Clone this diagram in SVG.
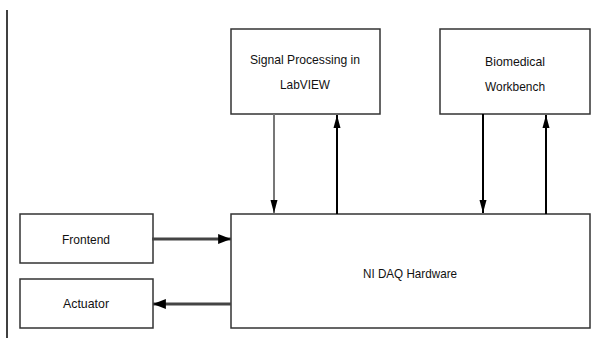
<svg xmlns="http://www.w3.org/2000/svg" width="597" height="347" viewBox="0 0 597 347">
<style>
.box{fill:#fff;stroke:#333;stroke-width:1.5}
.t{font-family:"Liberation Sans",Arial,sans-serif;font-size:13px;fill:#111;text-anchor:middle}
.c{fill:none;stroke:#000;stroke-width:2}
.g{fill:none;stroke:#777;stroke-width:2}
.h{fill:none;stroke:#444;stroke-width:3}
</style>
<defs>
<marker id="ah" viewBox="0 0 10 10" refX="10" refY="5" markerWidth="6.5" markerHeight="6.5" orient="auto" markerUnits="strokeWidth">
<path d="M0,2.3 L10,5 L0,7.7 z" fill="#000"/>
</marker>
<marker id="ah3" viewBox="0 0 10 10" refX="10" refY="5" markerWidth="4.3" markerHeight="4.3" orient="auto" markerUnits="strokeWidth">
<path d="M0,1.2 L10,5 L0,8.8 z" fill="#000"/>
</marker>
</defs>
<rect width="597" height="347" fill="#fff"/>
<line x1="7" y1="10" x2="7" y2="338" stroke="#000" stroke-width="1.5"/>
<g id="signal">
<rect class="box" x="231" y="29" width="149" height="85"/>
<text class="t" x="305" y="64" textLength="110" lengthAdjust="spacingAndGlyphs">Signal Processing in</text>
<text class="t" x="305" y="89" textLength="50" lengthAdjust="spacingAndGlyphs">LabVIEW</text>
</g>
<g id="biomedical">
<rect class="box" x="440" y="29" width="150" height="85"/>
<text class="t" x="515" y="66" textLength="60" lengthAdjust="spacingAndGlyphs">Biomedical</text>
<text class="t" x="515" y="91" textLength="60" lengthAdjust="spacingAndGlyphs">Workbench</text>
</g>
<g id="daq">
<rect class="box" x="231" y="214" width="359" height="114"/>
<text class="t" x="410" y="278" textLength="94" lengthAdjust="spacingAndGlyphs">NI DAQ Hardware</text>
</g>
<g id="frontend">
<rect class="box" x="20" y="214" width="133" height="49"/>
<text class="t" x="86" y="244" textLength="48" lengthAdjust="spacingAndGlyphs">Frontend</text>
</g>
<g id="actuator">
<rect class="box" x="20" y="279" width="133" height="49"/>
<text class="t" x="86" y="308" textLength="46" lengthAdjust="spacingAndGlyphs">Actuator</text>
</g>
<g id="connectors">
<line class="g" x1="274" y1="114" x2="274" y2="213" marker-end="url(#ah)"/>
<line class="c" x1="337" y1="214" x2="337" y2="115" marker-end="url(#ah)"/>
<line class="c" x1="483" y1="114" x2="483" y2="213" marker-end="url(#ah)"/>
<line class="c" x1="546" y1="214" x2="546" y2="115" marker-end="url(#ah)"/>
<line class="h" x1="152" y1="239" x2="231" y2="239" marker-end="url(#ah3)"/>
<line class="h" x1="231" y1="304" x2="153" y2="304" marker-end="url(#ah3)"/>
</g>
</svg>
